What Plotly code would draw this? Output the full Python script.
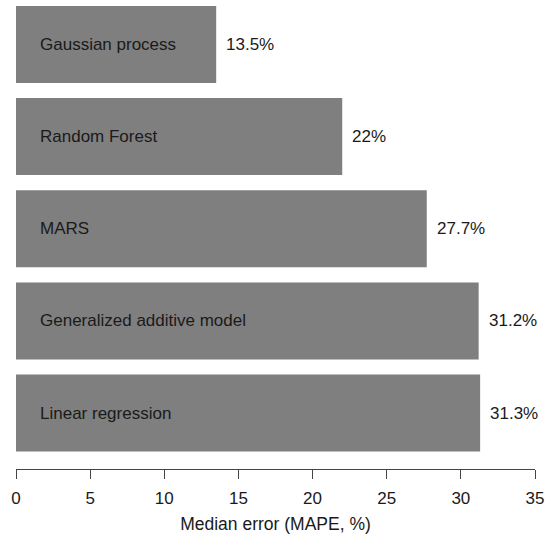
import plotly.graph_objects as go

models = ["Linear regression", "Generalized additive model", "MARS", "Random Forest", "Gaussian process"]
mape = [31.3, 31.2, 27.7, 22, 13.5]
x_ticks = [0, 5, 10, 15, 20, 25, 30, 35]
x_title = "Median error (MAPE, %)"

FONT = "Liberation Sans, Arial, Helvetica, sans-serif"
BAR = "#7f7f7f"
TXT = "#1a1a1a"

fig = go.Figure()
fig.add_trace(go.Bar(
    x=mape, y=models, orientation="h",
    marker=dict(color=BAR, line=dict(width=0)),
    hoverinfo="skip",
))

for m, v in zip(models, mape):
    fig.add_annotation(x=0, y=m, text=m, showarrow=False, xanchor="left",
                       xshift=22, font=dict(family=FONT, size=17, color=TXT))
    fig.add_annotation(x=v, y=m, text=f"{v:g}%", showarrow=False, xanchor="left",
                       xshift=8, font=dict(family=FONT, size=17, color=TXT))

fig.update_layout(
    width=545, height=542,
    margin=dict(l=16, r=10, t=0, b=73, autoexpand=False),
    paper_bgcolor="white", plot_bgcolor="white",
    bargap=0.165,
    showlegend=False,
    font=dict(family=FONT, size=17, color=TXT),
    xaxis=dict(
        range=[0, 35], tickvals=x_ticks, ticktext=[str(t) for t in x_ticks],
        showgrid=False, zeroline=False, automargin=False,
        showline=True, linecolor="#444", linewidth=1,
        ticks="outside", ticklen=9, tickcolor="#444", tickwidth=1,
        ticklabelstandoff=5,
        tickfont=dict(family=FONT, size=17, color=TXT),
        title=dict(text=x_title, font=dict(family=FONT, size=17.5, color=TXT), standoff=10),
        fixedrange=True,
    ),
    yaxis=dict(
        range=[-0.607, 4.482], showticklabels=False, showgrid=False, automargin=False,
        zeroline=False, showline=False, ticks="", fixedrange=True,
    ),
)

fig.write_html(
    "out.html",
    config={"displayModeBar": False},
    post_script="document.body.style.margin='0';document.body.style.overflow='hidden';",
)
